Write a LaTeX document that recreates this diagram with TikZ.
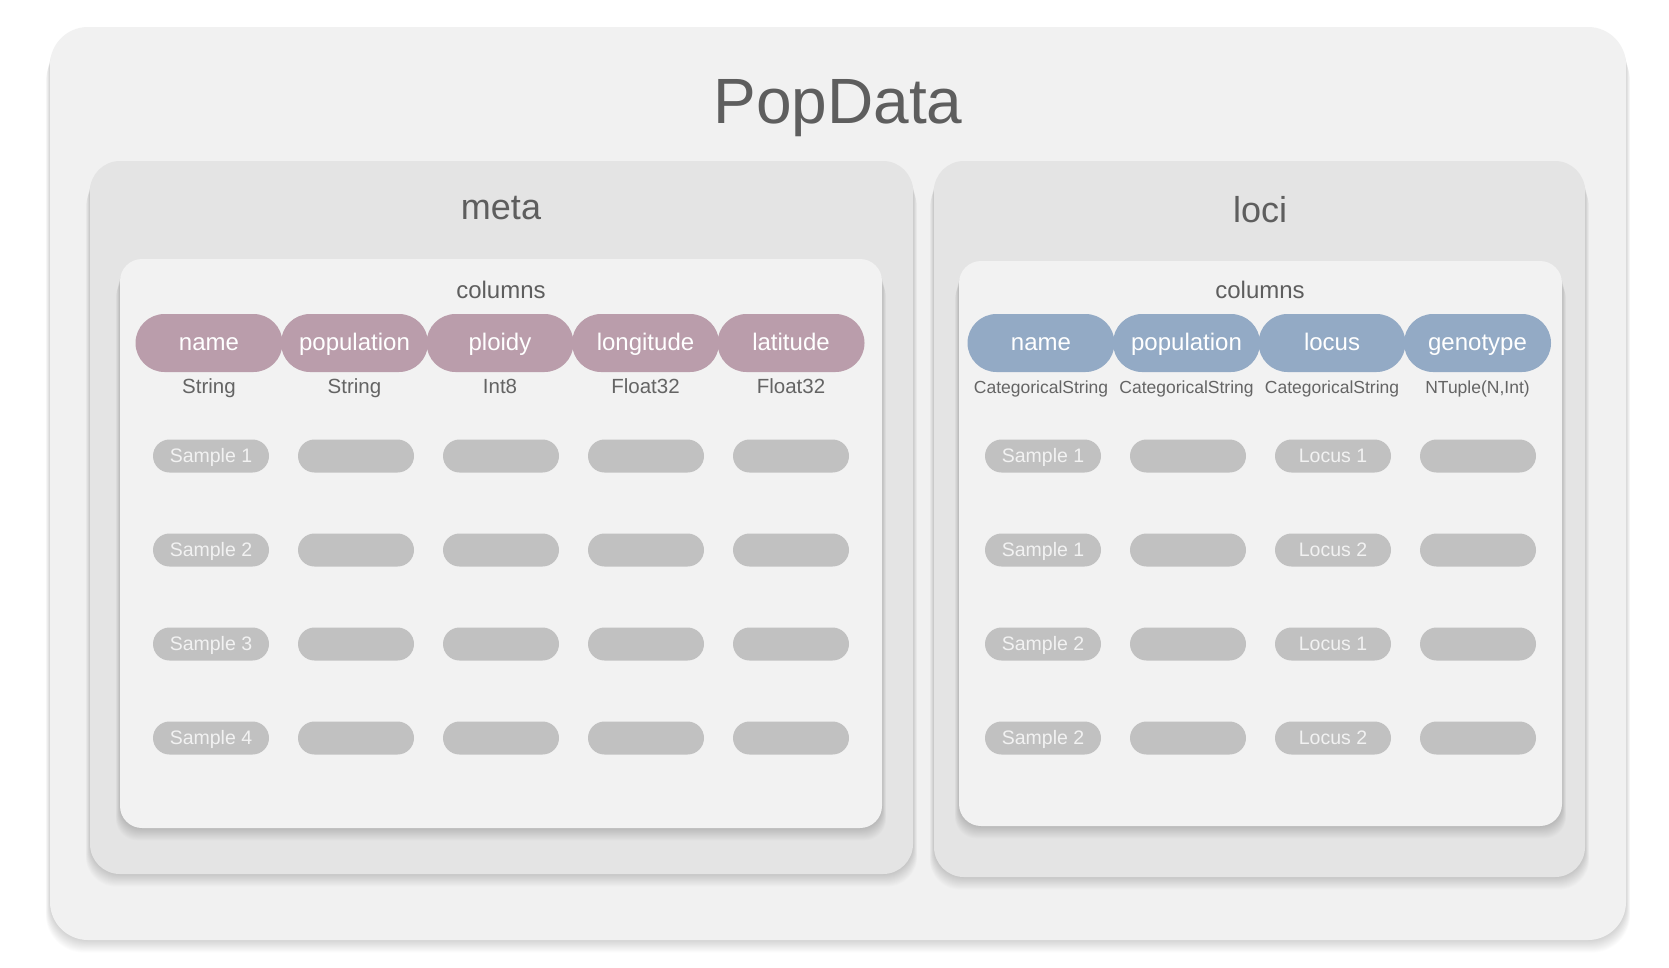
\documentclass[tikz,border=0pt]{standalone}
\usepackage{fontspec}
\setmainfont{Liberation Sans}
\usepackage{xcolor}
\usepackage{tikz}
\definecolor{page}{HTML}{F1F1F1}
\definecolor{panel}{HTML}{E4E4E4}
\definecolor{card}{HTML}{F2F2F2}
\definecolor{metacol}{HTML}{BA9DAB}
\definecolor{locicol}{HTML}{93AAC5}
\definecolor{cell}{HTML}{C1C1C1}
\definecolor{ink}{HTML}{5E5E5E}
\definecolor{typeink}{HTML}{646464}
\newcommand{\setpx}[1]{\fontsize{#1}{#1}\selectfont}
% soft shadow under a rounded card: corner radius, colour, corners
\newcommand{\cardbox}[6]{%
  \foreach \k in {1,...,14}
    \fill[black, opacity=0.013, rounded corners=#1] (#3-0.3*\k,#4+1.2*\k) rectangle (#5+0.3*\k,#6+0.9*\k);
  \fill[#2, rounded corners=#1] (#3,#4) rectangle (#5,#6);}

\begin{document}
\begin{tikzpicture}[x=1pt, y=-1pt,
  head/.style={rectangle, fill=#1, text=white, rounded corners=29pt, minimum width=147pt,
               minimum height=58pt, inner sep=0pt, text height=14pt, text depth=0pt, font=\setpx{24}},
  kind/.style={text=typeink, inner sep=0pt, anchor=base, font=\setpx{#1}},
  cellbox/.style={rectangle, fill=cell, text=card, rounded corners=16.5pt, minimum width=116pt,
                  minimum height=33pt, inner sep=0pt, text height=12pt, text depth=0pt, font=\setpx{19.5}},
  ttl/.style={text=ink, inner sep=0pt, anchor=base, font=\setpx{#1}}]
\useasboundingbox[fill=white] (0,0) rectangle (1669,967);

% outer frame, the two tables and their column cards
\cardbox{38pt}{page}{50}{27}{1626}{940}
\cardbox{30pt}{panel}{90}{161}{913}{874}
\cardbox{30pt}{panel}{934}{161}{1585}{877}
\cardbox{22pt}{card}{120}{259}{882}{828}
\cardbox{22pt}{card}{959}{261}{1562}{826}

\node[ttl=64] (popdata) at (838,123) {PopData};
\node[ttl=36] (meta) at (501,219) {meta};
\node[ttl=36] (loci) at (1260,222) {loci};
\node[ttl=24] (mcols) at (501,298) {columns};
\node[ttl=24] (lcols) at (1260,298) {columns};

% meta table
\foreach \lab [count=\i] in {name,population,ploidy,longitude,latitude}
  \node[head=metacol] (mh\i) at (63.5+145.5*\i,343) {\lab};
\foreach \t [count=\i] in {String,String,Int8,Float32,Float32}
  \node[kind=20.5] (mt\i) at (63.5+145.5*\i,393) {\t};
\foreach \r in {1,...,4}
  \foreach \i in {1,...,5}
    \node[cellbox] (mc\r-\i) at (66+145*\i,362+94*\r) {\ifnum\i=1 Sample \r\fi};

% loci table
\foreach \lab [count=\i] in {name,population,locus,genotype}
  \node[head=locicol] (lh\i) at (895.5+145.5*\i,343) {\lab};
\foreach \t [count=\i] in {CategoricalString,CategoricalString,CategoricalString,{NTuple(N,Int)}}
  \node[kind=17.5] (lt\i) at (895.5+145.5*\i,393) {\t};
\foreach \r/\s/\l in {1/1/1,2/1/2,3/2/1,4/2/2}{
  \node[cellbox] (lc\r-1) at (1043,362+94*\r) {Sample \s};
  \node[cellbox] (lc\r-2) at (1188,362+94*\r) {};
  \node[cellbox] (lc\r-3) at (1333,362+94*\r) {Locus \l};
  \node[cellbox] (lc\r-4) at (1478,362+94*\r) {};
}

\end{tikzpicture}
\end{document}
